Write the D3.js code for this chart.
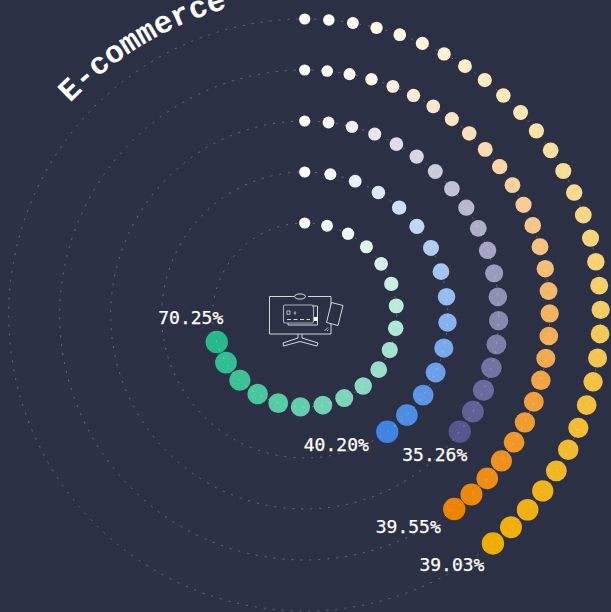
<!DOCTYPE html>
<html><head><meta charset="utf-8">
<script src="https://cdn.jsdelivr.net/npm/d3@7/dist/d3.min.js"></script>
<style>html,body{margin:0;padding:0;background:#2c3044;overflow:hidden}svg{display:block}</style>
</head><body><svg id="c" width="611" height="612"></svg>
<script>
const title = "E-commerce";
const percents = [70.25, 40.20, 35.26, 39.55, 39.03];
const dotCounts = [19, 15, 19, 28, 31];
const endColors = ["#24ba8b", "#3f84e2", "#57578f", "#ec8400", "#efac00"];
const labelOffsets = [[-26, -23], [-51, 14], [-25, 24], [-46, 19], [-41, 23]];

const W = 611, H = 612, cx = 304.7, cy = 315;
const svg = d3.select("#c");
svg.append("rect").attr("width", W).attr("height", H).attr("fill", "#2c3044");
const root = svg.append("g").attr("transform", `translate(${cx},${cy})`);

const rScale = d3.scaleLinear().domain([0, percents.length - 1]).range([92, 296]);
const angle = d3.scaleLinear().domain([0, 100]).range([0, 2 * Math.PI]);
const sizeScale = d3.scaleLinear().domain([0, 1]).range([5.6, 11.2]);
const pos = (r, a) => [r * Math.sin(a), -r * Math.cos(a)];

percents.forEach((p, i) => {
  const r = rScale(i);
  const colour = d3.scaleLinear().domain([0, 0.25, 1]).range(["#ffffff", d3.interpolateRgb("#ffffff", endColors[i])(0.22), endColors[i]]);
  const t = d3.range(dotCounts[i]).map(k => k / (dotCounts[i] - 1));
  root.append("g").selectAll("circle").data(t).join("circle")
    .attr("cx", d => pos(r, angle(p * d))[0])
    .attr("cy", d => pos(r, angle(p * d))[1])
    .attr("r", d => sizeScale(d))
    .attr("fill", d => colour(d));
});

percents.forEach((p, i) => {
  root.append("circle").attr("r", rScale(i)).attr("fill", "none")
    .attr("stroke", "rgba(255,255,255,0.28)").attr("stroke-width", 1)
    .attr("stroke-dasharray", "2 7");
});

percents.forEach((p, i) => {
  const [x, y] = pos(rScale(i), angle(p));
  root.append("text").attr("x", x + labelOffsets[i][0]).attr("y", y + labelOffsets[i][1])
    .attr("text-anchor", "middle").attr("dominant-baseline", "middle")
    .attr("font-family", "'DejaVu Sans Mono', monospace").attr("font-size", 18)
    .attr("fill", "#fff").attr("stroke", "#fff").attr("stroke-width", 0.25)
    .text(p.toFixed(2) + "%");
});

svg.append("defs").append("path").attr("id", "titlePath")
  .attr("d", "M70 103 A360 360 0 0 1 250 2");
svg.append("text").attr("font-family", "'Liberation Mono', monospace").attr("font-weight", "bold")
  .attr("font-size", 31).attr("fill", "#fff")
  .append("textPath").attr("href", "#titlePath").text(title);

const icon = svg.append("g").attr("fill", "none").attr("stroke", "#e8e9ee").attr("stroke-width", 0.9);
icon.append("path").attr("d", "M294 296.5H269.5V334H331V296.5H308");
icon.append("ellipse").attr("cx", 300).attr("cy", 296.5).attr("rx", 5.5).attr("ry", 2.6);
icon.append("path").attr("d", "M298 334V338L283 343L283.5 346L300 341.5L317 346L318 343L302 338V334");
icon.append("path").attr("d", "M312 306H317.5V325H288V323");
icon.append("rect").attr("x", 283.5).attr("y", 305).attr("width", 30).attr("height", 18).attr("rx", 1.5).attr("stroke-width", 1.1).attr("stroke", "#a9abb8");
icon.append("rect").attr("x", 287).attr("y", 311).attr("width", 3).attr("height", 3.2).attr("stroke-width", 0.7);
icon.append("path").attr("d", "M295 311V315M293.7 313H296.3").attr("stroke-width", 0.6);
icon.append("path").attr("d", "M287 319.5H310").attr("stroke-dasharray", "4 2.5");
icon.append("rect").attr("x", 314).attr("y", 317).attr("width", 3.5).attr("height", 4).attr("fill", "#fff").attr("stroke", "none");
icon.append("path").attr("d", "M331.5 302.5L343 305.5L338 325.5L326.5 322.5Z").attr("fill", "#2c3044");
icon.append("path").attr("d", "M324.5 331L328 327.5M327 331L328.5 329.5").attr("stroke-width", 0.7);
</script></body></html>
